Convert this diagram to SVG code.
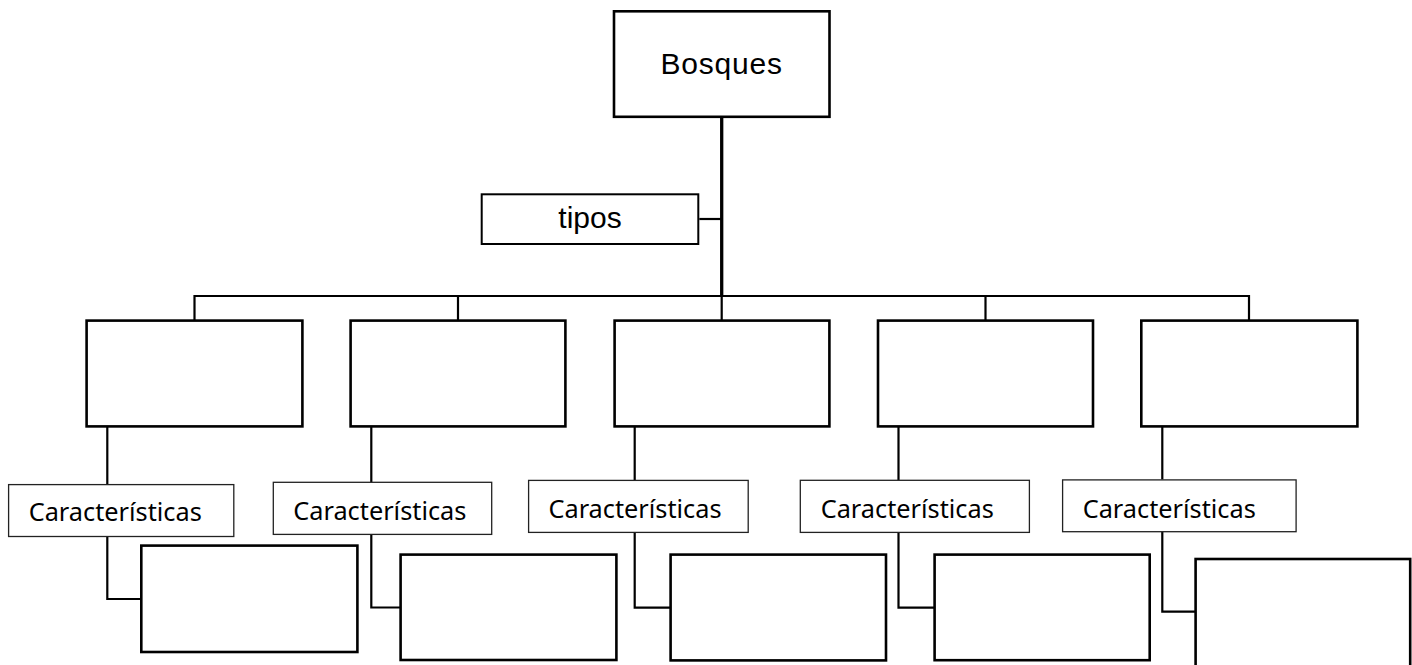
<svg xmlns="http://www.w3.org/2000/svg" width="1412" height="665" viewBox="0 0 1412 665">
  <style>
    .box { fill: #fff; stroke: #000; stroke-width: 2.6; }
    .lbl { fill: #fff; stroke: #000; stroke-width: 2; }
    .car { fill: #fff; stroke: #222; stroke-width: 1.3; }
    .wire { fill: none; stroke: #000; stroke-width: 2.2; }
    .trunk { fill: none; stroke: #000; stroke-width: 3.3; }
    .arial { font-family: "Liberation Sans", Arial, sans-serif; font-size: 30px; fill: #000; text-anchor: middle; }
    .cal { font-family: "Noto Sans", "Open Sans", sans-serif; font-size: 25.3px; fill: #000; }
  </style>
  <rect width="1412" height="665" fill="#fff"/>

  <!-- connectors -->
  <g id="connectors">
    <path class="trunk" d="M721.7 118 V296"/>
    <path class="wire" d="M699.3 219 H721.7"/>
    <path class="wire" d="M194.5 320 V296 H1249 V320"/>
    <path class="wire" d="M458 296 V320 M721.7 296 V320 M985.5 296 V320"/>
    <!-- branch 1 -->
    <path class="wire" d="M107.3 427 V484 M107.3 537 V599 H140"/>
    <!-- branch 2 -->
    <path class="wire" d="M371.3 427 V482 M371.3 535 V607.5 H400"/>
    <!-- branch 3 -->
    <path class="wire" d="M634.7 427 V480 M634.7 533 V607.7 H670"/>
    <!-- branch 4 -->
    <path class="wire" d="M898.5 427 V480 M898.5 533 V607.7 H934"/>
    <!-- branch 5 -->
    <path class="wire" d="M1162.3 427 V479.5 M1162.3 532 V611.7 H1195"/>
  </g>

  <!-- root -->
  <g id="bosques">
    <rect class="box" x="614" y="11.3" width="215.5" height="105.5"/>
    <text class="arial" x="721.7" y="74" letter-spacing="0.8">Bosques</text>
  </g>
  <g id="tipos">
    <rect class="lbl" x="481.7" y="194.3" width="216.6" height="49.7"/>
    <text class="arial" x="590" y="228.3">tipos</text>
  </g>

  <!-- first level -->
  <g id="tipo-1"><rect class="box" x="86.6" y="320.6" width="215.8" height="105.8"/></g>
  <g id="tipo-2"><rect class="box" x="350.6" y="320.6" width="214.8" height="105.8"/></g>
  <g id="tipo-3"><rect class="box" x="614.6" y="320.6" width="214.8" height="105.8"/></g>
  <g id="tipo-4"><rect class="box" x="878" y="320.6" width="215" height="105.8"/></g>
  <g id="tipo-5"><rect class="box" x="1141.3" y="320.6" width="216.1" height="105.8"/></g>

  <!-- feature labels -->
  <g id="car-1">
    <rect class="car" x="8.6" y="484.6" width="225.2" height="51.9"/>
    <text class="cal" x="28.7" y="521">Características</text>
  </g>
  <g id="car-2">
    <rect class="car" x="273.3" y="482.3" width="218.4" height="52.1"/>
    <text class="cal" x="293.3" y="520">Características</text>
  </g>
  <g id="car-3">
    <rect class="car" x="528.6" y="480.4" width="219.6" height="52"/>
    <text class="cal" x="548.5" y="518">Características</text>
  </g>
  <g id="car-4">
    <rect class="car" x="800.3" y="480.3" width="229.1" height="52.1"/>
    <text class="cal" x="820.7" y="518">Características</text>
  </g>
  <g id="car-5">
    <rect class="car" x="1062.6" y="479.9" width="233.5" height="51.8"/>
    <text class="cal" x="1082.7" y="518.3">Características</text>
  </g>

  <!-- detail boxes -->
  <g id="det-1"><rect class="box" x="141.3" y="545.6" width="216.1" height="106.4"/></g>
  <g id="det-2"><rect class="box" x="400.6" y="554.6" width="215.8" height="105.4"/></g>
  <g id="det-3"><rect class="box" x="670.6" y="554.6" width="215.4" height="105.8"/></g>
  <g id="det-4"><rect class="box" x="934.6" y="554.6" width="215.1" height="105.6"/></g>
  <g id="det-5"><rect class="box" x="1195.6" y="559" width="214.6" height="140"/></g>
</svg>
